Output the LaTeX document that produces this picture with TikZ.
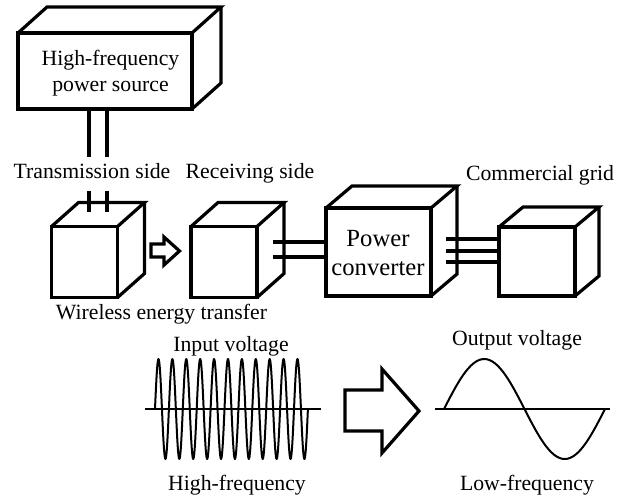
\documentclass[tikz,border=0pt]{standalone}
\usepackage{fontspec}
\setmainfont{Liberation Serif}
\tikzset{
    boxline/.style={line width=2.4pt,line join=miter},
    wire/.style={line width=2.3pt},
    face/.style 2 args={boxline,draw,inner sep=0pt,outer sep=0pt,minimum width=#1*0.75pt,minimum height=#2*0.75pt},
    label/.style={inner sep=0pt,align=center,font=\fontsize{16.3}{20}\selectfont},
    axisline/.style={line width=1.5pt},
    wave/.style={line width=1.5pt,line join=round,smooth}
}
% side and top of a box, from the corners of its front face
\newcommand{\boxdepth}[3]{
    \draw[boxline] (#1.north west) -- ++(#2,#3) -- ([shift={(#2,#3)}]#1.north east) -- (#1.north east);
    \draw[boxline] ([shift={(#2,#3)}]#1.north east) -- ([shift={(#2,#3)}]#1.south east) -- (#1.south east);
}
\begin{document}
\begin{tikzpicture}[x=0.75pt,y=-0.75pt]
    \useasboundingbox (0,0) rectangle (630,494);
    % boxes
    \node[face={174}{76}] (source) at (105,71) {};
    \node[face={66}{71}] (txbox) at (84.5,262) {};
    \node[face={66}{71}] (rxbox) at (224,262) {};
    \node[face={105}{88}] (conv) at (378.5,252) {};
    \node[face={76}{69}] (grid) at (537,261.5) {};
    \boxdepth{source}{29}{-26}
    \boxdepth{txbox}{27}{-24}
    \boxdepth{rxbox}{27}{-24}
    \boxdepth{conv}{26}{-22}
    \boxdepth{grid}{24}{-20}
    % wires
    \foreach \name/\x in {a/89,b/107} {
        \coordinate (up\name) at (\x,157);
        \coordinate (down\name) at (\x,191);
        \coordinate (in\name) at (\x,212);
        \draw[wire] (source.south -| up\name) -- (up\name);
        \draw[wire] (down\name) -- (in\name);
    }
    \foreach \name/\y in {a/242,b/257} {
        \coordinate (rx\name) at (273,\y);
        \draw[wire] (rx\name) -- (conv.west |- rx\name);
    }
    \foreach \name/\y in {a/239,b/251,c/262} {
        \coordinate (gr\name) at (446,\y);
        \draw[wire] (gr\name) -- (grid.west |- gr\name);
    }
    % arrows
    \draw[boxline] (151,244) -- (164,244) -- (164,237) -- (179.5,251) -- (164,265) -- (164,257) -- (151,257) -- cycle;
    \draw[boxline] (345,390) -- (382,390) -- (382,369) -- (419,411) -- (382,453) -- (382,431) -- (345,431) -- cycle;
    % waveforms
    \draw[axisline] (145,409) -- (321,409);
    \draw[wave] plot[domain=0:11,samples=221] ({155+13.9*\x},{409-50*sin(360*\x)});
    \draw[axisline] (435,409) -- (610,409);
    \draw[wave] plot[domain=0:1,samples=61] ({444+161*\x},{409-50*sin(360*\x)});
    % labels
    \node[label] (srclabel) at (110.5,73) {High-frequency\\power source};
    \node[label,font=\fontsize{18.5}{22}\selectfont] (convlabel) at (378,253) {Power\\converter};
    \node[label] (txlabel) at (92,171) {Transmission side};
    \node[label] (rxlabel) at (250,173) {Receiving side};
    \node[label] (gridlabel) at (540,175) {Commercial grid};
    \node[label] (wptlabel) at (161.5,314) {Wireless energy transfer};
    \node[label] (inlabel) at (231,346) {Input voltage};
    \node[label] (outlabel) at (517,340) {Output voltage};
    \node[label] (hflabel) at (237,485) {High-frequency};
    \node[label] (lflabel) at (527,485) {Low-frequency};
\end{tikzpicture}
\end{document}
